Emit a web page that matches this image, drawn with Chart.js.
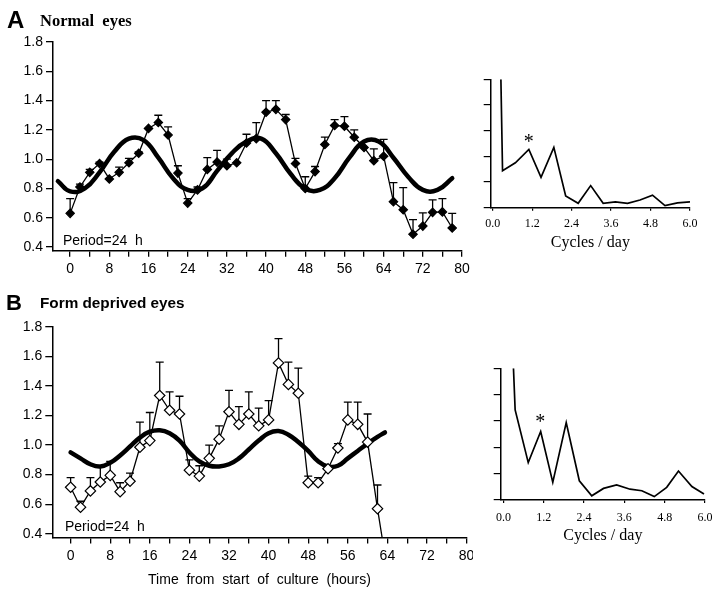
<!DOCTYPE html>
<html><head><meta charset="utf-8">
<script src="https://cdn.jsdelivr.net/npm/chart.js@4.4.0/dist/chart.umd.min.js"></script>
<style>
body{margin:0;background:#fff;width:721px;height:595px;overflow:hidden;position:relative;font-family:"Liberation Sans",Arial,sans-serif;}
canvas{position:absolute;}
.t{position:absolute;white-space:pre;color:#000;line-height:1;}
</style></head><body>
<canvas id="cA" style="left:0px;top:0px" width="480" height="290"></canvas>
<canvas id="cB" style="left:0px;top:280px" width="473" height="315"></canvas>
<canvas id="pA" style="left:480px;top:60px" width="241" height="200"></canvas>
<canvas id="pB" style="left:480px;top:350px" width="241" height="200"></canvas>
<div class="t" style="left:7px;top:6px;font:bold 24px 'Liberation Sans';">A</div>
<div class="t" style="left:40px;top:11px;font:bold 16.5px 'Liberation Serif';">Normal  eyes</div>
<div class="t" style="left:6px;top:290px;font:bold 22px 'Liberation Sans';">B</div>
<div class="t" style="left:40px;top:294px;font:bold 15.3px 'Liberation Sans';">Form deprived eyes</div>
<div class="t" style="left:63px;top:232px;font:14px 'Liberation Sans';">Period=24  h</div>
<div class="t" style="left:65px;top:518px;font:14px 'Liberation Sans';">Period=24  h</div>
<script>
// ---------- Data ----------
const hoursA = [0,2,4,6,8,10,12,14,16,18,20,22,24,26,28,30,32,34,36,38,40,42,44,46,48,50,52,54,56,58,60,62,64,66,68,70,72,74,76,78];
const normalMean = [0.63,0.81,0.91,0.97,0.865,0.91,0.975,1.04,1.21,1.25,1.165,0.905,0.70,0.79,0.93,0.98,0.955,0.975,1.11,1.14,1.32,1.34,1.27,0.97,0.80,0.915,1.10,1.23,1.225,1.15,1.08,0.99,1.02,0.71,0.655,0.487,0.543,0.637,0.64,0.53];
const normalSem  = [0.10,0.02,0.02,0.01,0,0.035,0.03,0.01,0,0.05,0.055,0.05,0.03,0.02,0.08,0.08,0.045,0,0.06,0.11,0.08,0.06,0.035,0.035,0.08,0.035,0.05,0.04,0.065,0.05,0,0.08,0.115,0.13,0.15,0.10,0.09,0.085,0.09,0.10];
const fitHoursA = [-2.5,0,3,6,9,12,15,18,21,24,27,30,33,36,39,42,45,48,51,54,57,60,63,66,69,72,75,78];
const fitA      = [0.85,0.78,0.80,0.91,1.05,1.14,1.13,1.01,0.87,0.79,0.80,0.92,1.04,1.12,1.14,1.04,0.90,0.80,0.79,0.87,1.01,1.12,1.12,1.01,0.88,0.79,0.79,0.87];

const hoursB = [0,2,4,6,8,10,12,14,16,18,20,22,24,26,28,30,32,34,36,38,40,42,44,46,48,50,52,54,56,58,60,62,64];
const deprivedMean = [0.715,0.58,0.69,0.75,0.795,0.685,0.755,0.985,1.03,1.335,1.235,1.21,0.83,0.79,0.91,1.04,1.225,1.14,1.21,1.13,1.17,1.555,1.41,1.35,0.745,0.745,0.84,0.98,1.17,1.14,1.02,0.57,0.15];
const deprivedSem  = [0.065,0.04,0.09,0.10,0.095,0.06,0.055,0.17,0.19,0.225,0.125,0.12,0.07,0.07,0.09,0.09,0.145,0.12,0.15,0.12,0.13,0.165,0.15,0.17,0.045,0.035,0,0.03,0.12,0.15,0.19,0.16,0];
const fitHoursB = [0,2,4,6,8,10,12,14,16,18,20,22,24,26,28,30,32,34,36,38,40,42,44,46,48,50,52,54,56,58,60,62,63.5];
const fitB      = [0.95,0.91,0.87,0.855,0.88,0.93,0.99,1.05,1.09,1.10,1.08,1.03,0.95,0.89,0.86,0.855,0.87,0.91,0.97,1.03,1.08,1.095,1.07,1.02,0.96,0.89,0.855,0.86,0.91,0.96,1.01,1.055,1.085];

const freqA  = [0.25,0.3,0.69,1.1,1.47,1.86,2.22,2.6,2.98,3.36,3.73,4.1,4.48,4.86,5.24,5.62,6.0];
const powerA = [5.0,1.44,1.75,2.27,1.18,2.35,0.46,0.17,0.86,0.17,0.23,0.17,0.30,0.49,0.08,0.19,0.23];
const freqB  = [0.30,0.35,0.74,1.11,1.47,1.87,2.26,2.63,2.98,3.37,3.77,4.12,4.49,4.86,5.21,5.61,5.97];
const powerB = [5.0,3.42,1.42,2.6,0.67,2.94,0.73,0.16,0.44,0.57,0.41,0.35,0.13,0.48,1.10,0.51,0.23];
const starA = {x:1.1, y:2.7};
const starB = {x:1.1, y:3.1};

const hourTicks = [0,8,16,24,32,40,48,56,64,72,80];
const cycleTicks = [0,1.2,2.4,3.6,4.8,6.0];

// ---------- Helpers ----------
Chart.defaults.font.family = "'Liberation Sans', Arial, sans-serif";
Chart.defaults.color = '#000';
const pts = (xs, ys) => xs.map((x,i)=>({x, y: ys[i]}));

function errPlugin(err){
  return {id:'errBars', beforeDatasetsDraw(chart){
    const {ctx, scales:{x,y}} = chart;
    const data = chart.data.datasets[0].data;
    ctx.save(); ctx.strokeStyle='#000'; ctx.lineWidth=1.3;
    ctx.beginPath(); ctx.rect(chart.chartArea.left, chart.chartArea.top-10, chart.chartArea.width, chart.chartArea.height+10); ctx.clip();
    data.forEach((p,i)=>{
      const e = err[i]; if(!e) return;
      const px = x.getPixelForValue(p.x), py = y.getPixelForValue(p.y), pt = y.getPixelForValue(p.y+e);
      ctx.beginPath(); ctx.moveTo(px,py); ctx.lineTo(px,pt); ctx.moveTo(px-4,pt); ctx.lineTo(px+4,pt); ctx.stroke();
    });
    ctx.restore();
  }};
}
function starPlugin(s){
  return {id:'star', afterDatasetsDraw(chart){
    const {ctx, scales:{x,y}} = chart;
    ctx.save(); ctx.fillStyle='#000'; ctx.font="20px 'Liberation Serif'"; ctx.textAlign='center'; ctx.textBaseline='middle';
    ctx.fillText('*', x.getPixelForValue(s.x), y.getPixelForValue(s.y)+4);
    ctx.restore();
  }};
}

function mainChart(id, cfg){
  new Chart(document.getElementById(id), {
    type:'line',
    data:{datasets:[
      {data: pts(cfg.hours, cfg.mean), borderColor:'#000', borderWidth:1.3, tension:0,
       pointStyle:'rectRot', pointRadius:cfg.pr, pointBackgroundColor:cfg.fill, pointBorderColor:'#000', pointBorderWidth:1.2},
      {data: pts(cfg.fitHours, cfg.fit), borderColor:'#000', borderWidth:4.5, pointRadius:0,
       tension:0.45, borderCapStyle:'round', borderJoinStyle:'round'}
    ]},
    options:{
      responsive:false, animation:false, events:[],
      layout:{padding:cfg.pad},
      plugins:{legend:{display:false}, tooltip:{enabled:false}},
      scales:{
        x:{type:'linear', min:cfg.xmin, max:80,
           afterFit:s=>{s.height=cfg.xh; s.paddingLeft=0; s.paddingRight=0;},
           afterBuildTicks:s=>{ s.ticks = []; for(let v=0; v<=80; v+=4) s.ticks.push({value:v}); },
           ticks:{autoSkip:false, maxRotation:0, padding:4, font:{size:14},
                  callback:v=> hourTicks.includes(v) ? String(v) : ''},
           grid:{drawOnChartArea:false, drawTicks:true, tickLength:6, tickColor:'#000', lineWidth:1.3},
           border:{display:true, color:'#000', width:1.5},
           title:{display:!!cfg.xtitle, text:cfg.xtitle, font:{size:14}, padding:{top:0,bottom:cfg.tpad}}},
        y:{type:'linear', min:0.375, max:1.8,
           afterFit:s=>{s.width=cfg.yw; s.paddingTop=0; s.paddingBottom=0;},
           afterBuildTicks:s=>{ s.ticks=[0.4,0.6,0.8,1.0,1.2,1.4,1.6,1.8].map(v=>({value:v})); },
           ticks:{padding:3, font:{size:14}, callback:v=>Number(v).toFixed(1)},
           grid:{drawOnChartArea:false, drawTicks:true, tickLength:7, tickColor:'#000', lineWidth:1.3},
           border:{display:true, color:'#000', width:1.5}}
      }
    },
    plugins:[errPlugin(cfg.err)]
  });
}

function periodChart(id, cfg){
  new Chart(document.getElementById(id), {
    type:'line',
    data:{datasets:[{data: pts(cfg.f, cfg.p), borderColor:'#000', borderWidth:1.7, pointRadius:0, tension:0, borderJoinStyle:'miter'}]},
    options:{
      responsive:false, animation:false, events:[],
      layout:{padding:cfg.pad},
      plugins:{legend:{display:false}, tooltip:{enabled:false}},
      scales:{
        x:{type:'linear', min:cfg.xmin, max:6,
           afterFit:s=>{s.height=cfg.xh; s.paddingLeft=0; s.paddingRight=0;},
           afterBuildTicks:s=>{ s.ticks = cycleTicks.map(v=>({value:v})); },
           ticks:{autoSkip:false, maxRotation:0, padding:cfg.lpad, font:{size:12, family:"'Liberation Serif'"}, callback:v=>Number(v).toFixed(1)},
           grid:{drawOnChartArea:false, drawTicks:true, tickLength:3, tickColor:'#000', lineWidth:1.2},
           border:{display:true, color:'#000', width:1.5},
           title:{display:true, text:'Cycles / day', font:{size:16, family:"'Liberation Serif'"}, padding:{top:0,bottom:cfg.tpad}}},
        y:{type:'linear', min:0, max:5,
           afterFit:s=>{s.width=cfg.yw; s.paddingTop=0; s.paddingBottom=0;},
           afterBuildTicks:s=>{ s.ticks=[0,1,2,3,4,5].map(v=>({value:v})); },
           ticks:{display:false},
           grid:{drawOnChartArea:false, drawTicks:true, tickLength:7, tickColor:'#000', lineWidth:1.2},
           border:{display:true, color:'#000', width:1.5}}
      }
    },
    plugins:[starPlugin(cfg.star)]
  });
}

mainChart('cA', {hours:hoursA, mean:normalMean, err:normalSem, fitHours:fitHoursA, fit:fitA,
  pr:4.2, fill:'#000', xmin:-3.5, pad:{left:0, top:42, right:18, bottom:0}, xh:39.3, yw:53});
mainChart('cB', {hours:hoursB, mean:deprivedMean, err:deprivedSem, fitHours:fitHoursB, fit:fitB,
  pr:5.2, fill:'#fff', xmin:-3.7, pad:{left:0, top:46.7, right:1.2, bottom:0}, xh:57.5, yw:52.3,
  xtitle:'Time  from  start  of  culture  (hours)', tpad:6});
periodChart('pA', {f:freqA, p:powerA, star:starA, xmin:-0.06, pad:{left:0, top:19.3, right:31, bottom:0}, xh:52.3, yw:10.7, tpad:8, lpad:6});
periodChart('pB', {f:freqB, p:powerB, star:starB, xmin:-0.08, pad:{left:0, top:18.3, right:16, bottom:0}, xh:50, yw:20.7, tpad:5, lpad:8});
</script>
</body></html>
